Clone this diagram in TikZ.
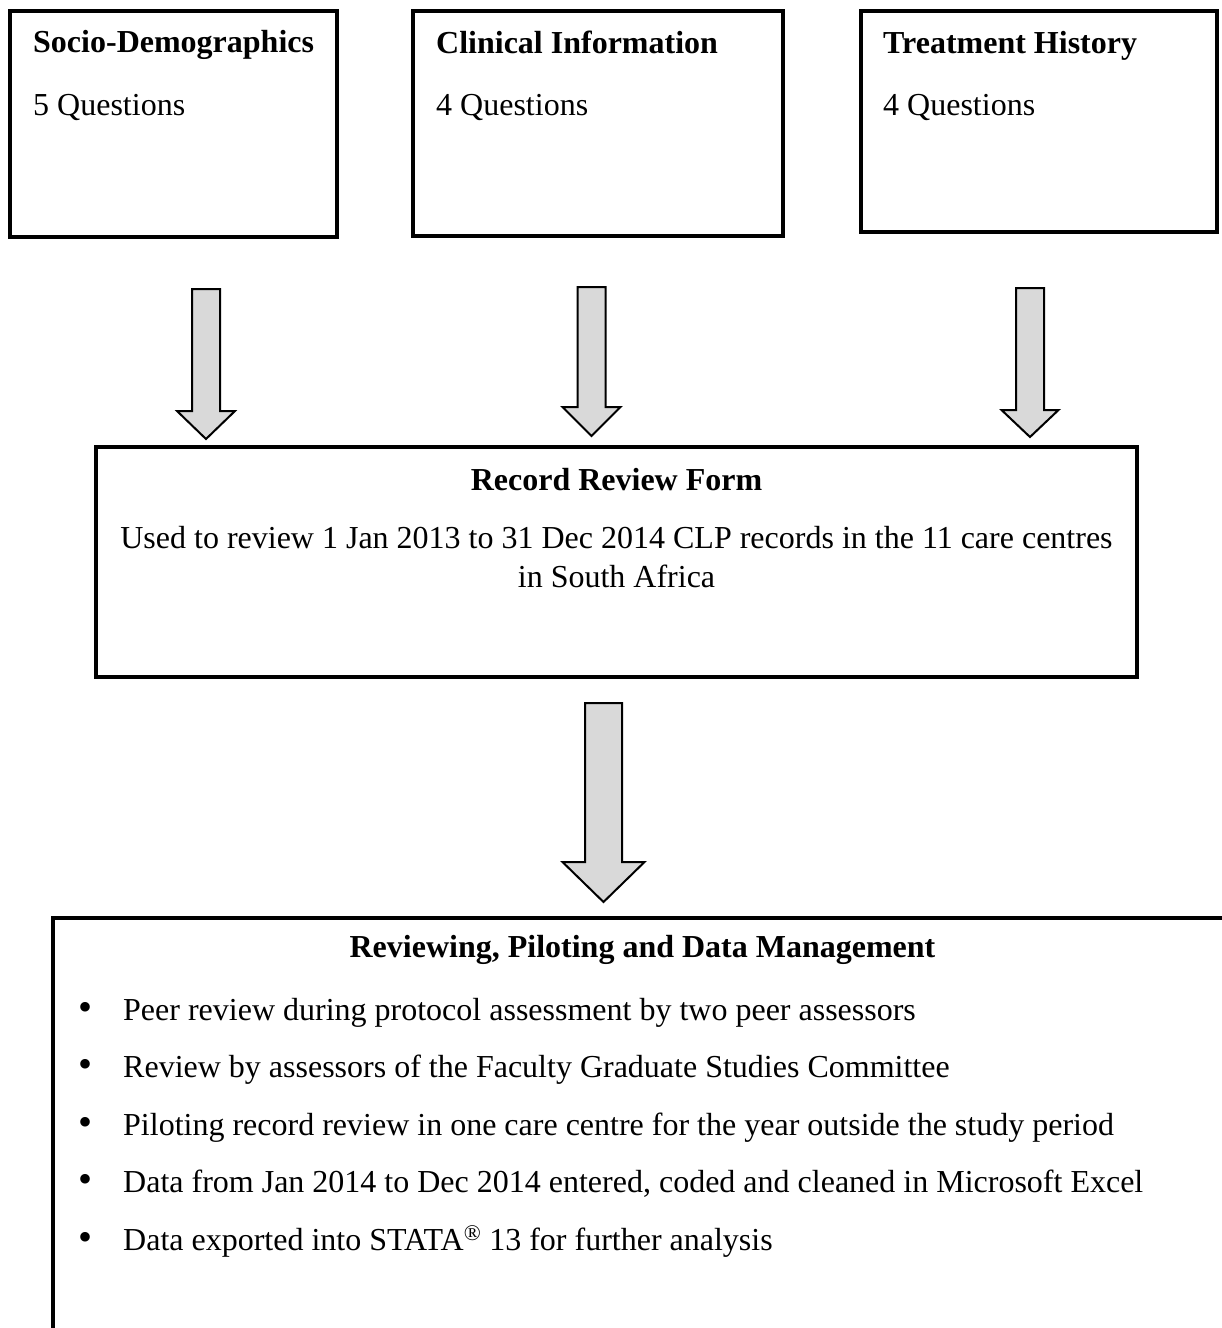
\documentclass[tikz,border=0pt]{standalone}
\usepackage{fontspec}
\setmainfont{Liberation Serif}
\usepackage{tikz}
\usetikzlibrary{positioning, calc}
\definecolor{arrowgray}{HTML}{D9D9D9}

% block arrow: start, tip, half shaft width, half head width, head length
\newcommand{\fatarrow}[5]{%
  \draw[fatarr] ($(#1)+(-#3,0)$) -- ($(#2)+(-#3,-#5)$) -- ($(#2)+(-#4,-#5)$) -- (#2)
    -- ($(#2)+(#4,-#5)$) -- ($(#2)+(#3,-#5)$) -- ($(#1)+(#3,0)$) -- cycle;}
\newcommand{\bul}{\llap{\scalebox{1.25}{\textbullet}\hspace{31pt}}}

\begin{document}
\begin{tikzpicture}[x=1pt, y=-1pt,
  font=\fontsize{32pt}{36.8pt}\selectfont,
  box/.style={rectangle, draw=black, line width=3.5pt, inner sep=0pt, outer sep=0pt},
  hd/.style={font=\fontsize{32pt}{36.8pt}\selectfont\bfseries, inner sep=0pt},
  txt/.style={inner sep=0pt},
  fatarr/.style={draw=black, line width=2pt, fill=arrowgray, line join=miter}
]
  \path[use as bounding box, fill=white] (0,0) rectangle (1222,1328);
  \clip (0,0) rectangle (1222,1328);

  % three question groups
  \node[box, minimum width=327pt, minimum height=226pt] (socio) at (173.5,124) {};
  \node[box, minimum width=370pt, minimum height=225pt,
        right=76pt of socio.north east, anchor=north west] (clin) {};
  \node[box, minimum width=356pt, minimum height=221pt,
        right=78pt of clin.north east, anchor=north west] (treat) {};

  \node[hd, anchor=base west]  (sociohd)  at ($(socio.north west)+(23,41)$)  {Socio-Demographics};
  \node[txt, anchor=base west] (sociotxt) at ($(socio.north west)+(23,104)$) {5 Questions};
  \node[hd, anchor=base west]  (clinhd)   at ($(clin.north west)+(23,42)$)   {Clinical Information};
  \node[txt, anchor=base west] (clintxt)  at ($(clin.north west)+(23,104)$)  {4 Questions};
  \node[hd, anchor=base west]  (treathd)  at ($(treat.north west)+(22,42)$)  {Treatment History};
  \node[txt, anchor=base west] (treattxt) at ($(treat.north west)+(22,104)$) {4 Questions};

  % record review form
  \node[box, minimum width=1041pt, minimum height=230pt] (rrf) at (616.5,562) {};
  \node[hd, anchor=base]  (rrfhd) at ($(rrf.north)+(0,43)$)  {Record Review Form};
  \node[txt, anchor=base] (rrfl1) at ($(rrf.north)+(0,101)$) {Used to review 1 Jan 2013 to 31 Dec 2014 CLP records in the 11 care centres};
  \node[txt, anchor=base] (rrfl2) at ($(rrf.north)+(0,140)$) {in South Africa};

  % reviewing, piloting and data management
  \node[box, minimum width=1220pt, minimum height=500pt, anchor=north west] (rev) at (53,918) {};
  \node[hd, anchor=base] (revhd) at ($(rev.north west)+(589.5,39)$) {Reviewing, Piloting and Data Management};
  \node[txt, anchor=base west] (b1) at ($(rev.north west)+(70,102)$) {\bul Peer review during protocol assessment by two peer assessors};
  \node[txt, anchor=base west] (b2) at ($(rev.north west)+(70,159)$) {\bul Review by assessors of the Faculty Graduate Studies Committee};
  \node[txt, anchor=base west] (b3) at ($(rev.north west)+(70,217)$) {\bul Piloting record review in one care centre for the year outside the study period};
  \node[txt, anchor=base west] (b4) at ($(rev.north west)+(70,274)$) {\bul Data from Jan 2014 to Dec 2014 entered, coded and cleaned in Microsoft Excel};
  \node[txt, anchor=base west] (b5) at ($(rev.north west)+(70,332)$) {\bul Data exported into STATA\textsuperscript{\textregistered} 13 for further analysis};

  % block arrows
  \coordinate (a1) at ($(socio.south)+(32.5,52)$);
  \coordinate (t1) at ($(a1 |- rrf.north)+(0,-8)$);
  \coordinate (a2) at ($(clin.south)+(-6.5,51)$);
  \coordinate (t2) at ($(a2 |- rrf.north)+(0,-11)$);
  \coordinate (a3) at ($(treat.south)+(-9,56)$);
  \coordinate (t3) at ($(a3 |- rrf.north)+(0,-10)$);
  \coordinate (a4) at ($(rrf.south)+(-13,26)$);
  \coordinate (t4) at ($(a4 |- rev.north)+(0,-16)$);

  \fatarrow{a1}{t1}{14}{29}{28}
  \fatarrow{a2}{t2}{14}{29}{29}
  \fatarrow{a3}{t3}{14}{28.5}{27}
  \fatarrow{a4}{t4}{18.5}{41}{40}
\end{tikzpicture}
\end{document}
